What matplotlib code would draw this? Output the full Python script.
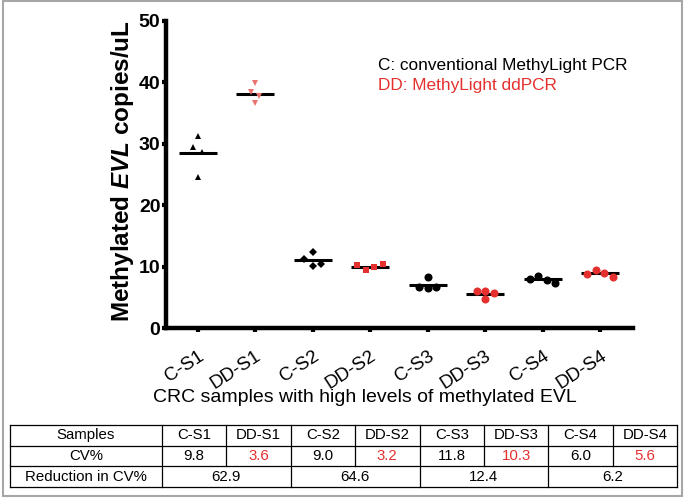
import numpy as np
import matplotlib
matplotlib.use("Agg")
import matplotlib.pyplot as plt
from matplotlib.patches import Rectangle

# ---- data ----
samples = ["C-S1", "DD-S1", "C-S2", "DD-S2", "C-S3", "DD-S3", "C-S4", "DD-S4"]
values = [
    [31.3, 29.4, 28.6, 24.6],   # C-S1
    [39.9, 38.5, 37.7, 36.6],   # DD-S1
    [12.4, 11.2, 10.1, 10.5],   # C-S2
    [10.3, 9.5, 9.9, 10.4],     # DD-S2
    [8.4, 6.7, 6.5, 6.7],       # C-S3
    [6.1, 6.0, 5.7, 4.8],       # DD-S3
    [8.0, 8.5, 7.9, 7.4],       # C-S4
    [8.9, 9.5, 9.0, 8.4],       # DD-S4
]
cv_pct = ["9.8", "3.6", "9.0", "3.2", "11.8", "10.3", "6.0", "5.6"]
reduction = ["62.9", "64.6", "12.4", "6.2"]

markers = ["^", "v", "D", "s", "o", "o", "o", "o"]
msizes = [5, 5, 4, 4.5, 5.8, 5.8, 5.8, 5.8]
colors = ["black", "#e8736f", "black", "#e4312f", "black", "#e4312f", "black", "#e4312f"]
RED = "#e4312f"

plt.rcParams["font.family"] = ["Liberation Sans", "DejaVu Sans"]
plt.rcParams["mathtext.fontset"] = "custom"
plt.rcParams["mathtext.bfit"] = "Liberation Sans:italic:bold"
plt.rcParams["mathtext.rm"] = "Liberation Sans:bold"


def scatter_rows(ax, x0, vals, gap_px=5.5, spacing_px=8.5):
    # GraphPad-like column scatter: points closer than gap_px (vertically)
    # are chained into one row and laid side by side, centred on x0
    pts = ax.transData.transform(np.column_stack([np.full(len(vals), x0), vals]))
    order = np.argsort(-pts[:, 1])
    groups, cur = [], [order[0]]
    for a, b in zip(order[:-1], order[1:]):
        if pts[a, 1] - pts[b, 1] < gap_px:
            cur.append(b)
        else:
            groups.append(cur)
            cur = [b]
    groups.append(cur)
    xs = pts[:, 0].copy()
    for g in groups:
        g = sorted(g)
        for k, i in enumerate(g):
            xs[i] += (k - (len(g) - 1) / 2) * spacing_px
    return ax.transData.inverted().transform(np.column_stack([xs, pts[:, 1]]))[:, 0]


W, H = 684, 498
fig = plt.figure(figsize=(W / 100, H / 100), dpi=100)

# gray frame round the whole figure
fig.patches.append(Rectangle((2.5 / W, 2.5 / H), 679 / W, 494 / H, transform=fig.transFigure,
                             fill=False, edgecolor="#a6a6a6", linewidth=1.5))

ax = fig.add_axes([166 / W, (H - 328.3) / H, 467 / W, 307.5 / H])
ax.set_xlim(0.45, 8.57)
ax.set_ylim(0, 50)

xpos = np.arange(1, len(samples) + 1)
for x0, vals, m, ms, c in zip(xpos, values, markers, msizes, colors):
    xs = scatter_rows(ax, x0, vals)
    ax.plot(xs, vals, linestyle="none", marker=m, markersize=ms, color=c,
            markeredgewidth=0, zorder=3)
    ax.plot([x0 - 0.33, x0 + 0.33], [np.mean(vals)] * 2, color="black",
            linewidth=2.2, solid_capstyle="butt", zorder=2)

for s in ["top", "right"]:
    ax.spines[s].set_visible(False)
for s in ["left", "bottom"]:
    ax.spines[s].set_linewidth(3.2)

ax.set_yticks([0, 10, 20, 30, 40, 50])
ax.tick_params(axis="y", length=3, width=3, pad=1, labelsize=14)
for t in ax.get_yticklabels():
    t.set_fontweight("bold")
ax.set_xticks(xpos)
ax.set_xticklabels(samples, rotation=33, ha="right", rotation_mode="anchor", fontsize=13.5)
ax.tick_params(axis="x", length=3, width=3, pad=11)

ax.set_ylabel(r"Methylated $\mathbfit{EVL}$ copies/uL", fontsize=17.5, fontweight="bold")
ax.yaxis.set_label_coords(-0.064, 0.51)
ax.set_xlabel("CRC samples with high levels of methylated EVL", fontsize=14)
ax.xaxis.set_label_coords(0.425, -0.198)

ax.text(0.454, 0.856, "C: conventional MethyLight PCR", transform=ax.transAxes,
        fontsize=12.4, va="center", color="black")
ax.text(0.454, 0.791, "DD: MethyLight ddPCR", transform=ax.transAxes,
        fontsize=12.4, va="center", color=RED)

# ---- table under the chart ----
tx0, tx1 = 10, 677
ty_top, ty_bot = 425, 487
tab = fig.add_axes([tx0 / W, (H - ty_bot) / H, (tx1 - tx0) / W, (ty_bot - ty_top) / H])
tab.set_xlim(0, tx1 - tx0)
tab.set_ylim(0, 3)
tab.axis("off")
first_w = 152
col_w = (tx1 - tx0 - first_w) / len(samples)
edges = [0] + [first_w + i * col_w for i in range(len(samples) + 1)]
lw = 0.9
for y in [0, 1, 2, 3]:
    tab.plot([0, edges[-1]], [y, y], color="black", linewidth=lw, clip_on=False)
for i, xe in enumerate(edges):
    bottom = 0 if (i % 2 == 1 or i == 0 or i == len(edges) - 1) else 1
    tab.plot([xe, xe], [bottom, 3], color="black", linewidth=lw, clip_on=False)

tfs = 10.8
tab.text(first_w / 2, 2.5, "Samples", ha="center", va="center", fontsize=tfs)
tab.text(first_w / 2, 1.5, "CV%", ha="center", va="center", fontsize=tfs)
tab.text(first_w / 2, 0.5, "Reduction in CV%", ha="center", va="center", fontsize=tfs)
for i, (s, cv) in enumerate(zip(samples, cv_pct)):
    xc = (edges[i + 1] + edges[i + 2]) / 2
    c = RED if s.startswith("DD") else "black"
    tab.text(xc, 2.5, s, ha="center", va="center", fontsize=tfs)
    tab.text(xc, 1.5, cv, ha="center", va="center", fontsize=tfs, color=c)
for j, r in enumerate(reduction):
    xc = (edges[2 * j + 1] + edges[2 * j + 3]) / 2
    tab.text(xc, 0.5, r, ha="center", va="center", fontsize=tfs)

fig.savefig("out.png", dpi=100)
